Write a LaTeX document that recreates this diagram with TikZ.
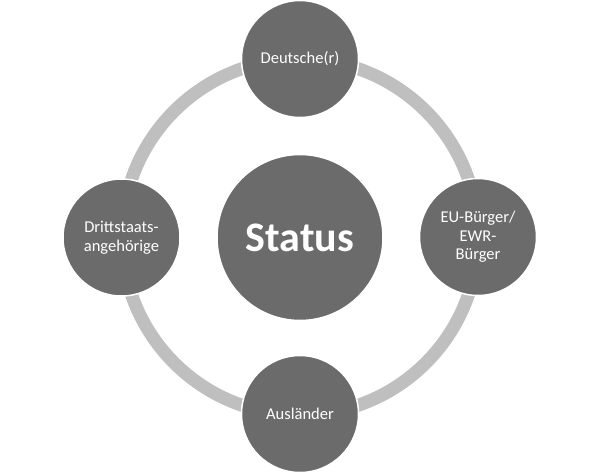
\documentclass[tikz,border=0pt]{standalone}
\usepackage{fontspec}
\setmainfont{Carlito}
\definecolor{ringgray}{HTML}{BFBFBF}
\definecolor{dotgray}{HTML}{6B6B6B}
\begin{document}
\begin{tikzpicture}[x=1pt,y=-1pt,
  sat/.style={circle,fill=dotgray,draw=white,line width=1.5pt,minimum size=117pt,inner sep=0pt,
    text=white,align=center,font=\fontsize{16.5}{18.5}\selectfont},
  hub/.style={circle,fill=dotgray,draw=white,line width=1.5pt,minimum size=166pt,inner sep=0pt,
    text=white,font=\fontsize{42}{46}\selectfont\bfseries},
  ringline/.style={draw=ringgray,line width=13pt}]
\useasboundingbox (0,0) rectangle (600,474);
\coordinate (c) at (300,237);
\draw[ringline] (c) circle[radius=178];
\node[hub] (status) at (300,237.5) {Status};
\node[sat] (de) at (300,59) {Deutsche(r)};
\node[sat] (eu) at (478,237) {EU-Bürger/\\EWR-\\Bürger};
\node[sat] (au) at (300,414) {Ausländer};
\node[sat] (dr) at (121.5,237.5) {Drittstaats-\\angehörige};
\end{tikzpicture}
\end{document}
